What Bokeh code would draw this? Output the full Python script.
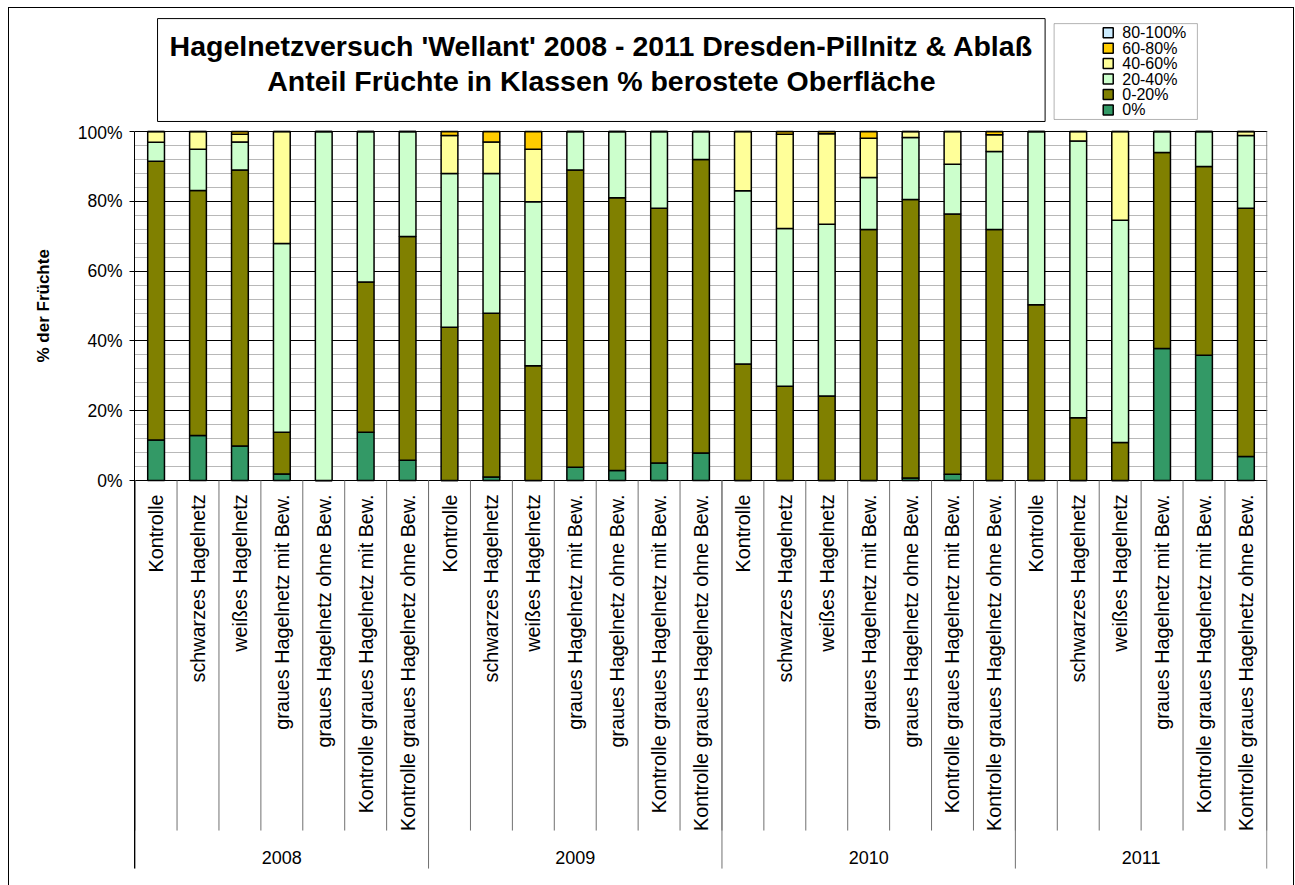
import math
from bokeh.plotting import figure
from bokeh.layouts import column
from bokeh.models import (FactorRange, Range1d, FixedTicker, PrintfTickFormatter, ColumnDataSource,
                          BoxAnnotation, Title)
from bokeh.core.properties import value
from bokeh.embed import file_html
from bokeh.resources import INLINE

# ---------------- data ----------------
years = ["2008", "2009", "2010", "2011"]
cats_full = ["Kontrolle", "schwarzes Hagelnetz", "weißes Hagelnetz", "graues Hagelnetz mit Bew.",
             "graues Hagelnetz ohne Bew.", "Kontrolle graues Hagelnetz mit Bew.",
             "Kontrolle graues Hagelnetz ohne Bew."]
cats_2011 = ["Kontrolle", "schwarzes Hagelnetz", "weißes Hagelnetz", "graues Hagelnetz mit Bew.",
             "Kontrolle graues Hagelnetz mit Bew.", "Kontrolle graues Hagelnetz ohne Bew."]
year_cats = {"2008": cats_full, "2009": cats_full, "2010": cats_full, "2011": cats_2011}

classes = ["0%", "0-20%", "20-40%", "40-60%", "60-80%", "80-100%"]
class_keys = ["c0", "c0_20", "c20_40", "c40_60", "c60_80", "c80_100"]
colors = ["#339966", "#808000", "#CCFFCC", "#FFFF99", "#FFCC00", "#CCECFF"]

c0 = [11.6, 12.9, 9.9, 1.9, 0, 13.8, 5.8,
      0, 1.0, 0, 3.8, 2.9, 5.0, 7.9,
      0, 0, 0, 0, 0.7, 1.8, 0,
      0, 0, 0, 37.8, 35.9, 6.9]
c0_20 = [79.9, 70.2, 79.1, 11.9, 0, 43.1, 64.1,
         43.9, 46.9, 32.9, 85.2, 78.1, 73.0, 84.1,
         33.4, 27.0, 24.2, 71.9, 79.8, 74.6, 71.9,
         50.4, 18.0, 10.9, 56.2, 54.1, 71.1]
c20_40 = [5.4, 11.8, 8.0, 54.1, 100, 43.1, 30.1,
          44.1, 40.1, 47.0, 11.0, 19.0, 22.0, 8.0,
          49.6, 45.2, 49.2, 14.9, 17.8, 14.2, 22.4,
          49.6, 79.3, 63.7, 6.0, 10.0, 20.9]
c40_60 = [3.1, 5.1, 2.2, 32.1, 0, 0, 0,
          10.9, 9.0, 15.0, 0, 0, 0, 0,
          17.0, 27.0, 26.0, 11.3, 1.7, 9.4, 4.8,
          0, 2.7, 25.4, 0, 0, 1.1]
c60_80 = [0, 0, 0.8, 0, 0, 0, 0,
          1.1, 3.0, 5.1, 0, 0, 0, 0,
          0, 0.8, 0.6, 1.9, 0, 0, 0.9,
          0, 0, 0, 0, 0, 0]
c80_100 = [0, 0, 0, 0, 0, 0, 0,
           0, 0, 0, 0, 0, 0, 0,
           0, 0, 0, 0, 0, 0, 0,
           0, 0, 0, 0, 0, 0]

y_ticks = [0, 20, 40, 60, 80, 100]
y_minor = [4, 8, 12, 16, 24, 28, 32, 36, 44, 48, 52, 56, 64, 68, 72, 76, 84, 88, 92, 96]

title_lines = ["Hagelnetzversuch 'Wellant' 2008 - 2011 Dresden-Pillnitz & Ablaß",
               "Anteil Früchte in Klassen % berostete Oberfläche"]
y_title = "% der Früchte"

FONT = "Liberation Sans"
W = 1286          # incl. 1px css borders left/right
BORDER_L, BORDER_R = 125, 28
SIDE = {"border-left": "1px solid black", "border-right": "1px solid black"}

factors = [(y, c) for y in years for c in year_cats[y]]
last = factors[-1]
x_range = FactorRange(*factors, group_padding=0, subgroup_padding=0, factor_padding=0,
                      range_padding=0.015, range_padding_units="absolute")

# ---------------- header: title box + legend (pixel-like coordinates) ----------------
ph = figure(width=W, height=115, x_range=Range1d(134, 1265), y_range=Range1d(122, 8),
            output_backend="svg", toolbar_location=None, title=None,
            x_axis_location=None, y_axis_location=None,
            min_border_left=BORDER_L, min_border_right=BORDER_R, min_border_top=0,
            min_border_bottom=0, styles=dict(SIDE, **{"border-top": "1px solid black"}))
ph.grid.visible = False
ph.outline_line_color = None

ph.quad(left=[157], right=[1043], top=[18], bottom=[120], fill_color="white", line_color="black",
        line_width=1)
ph.text(x=[600, 600], y=[45, 80], text=title_lines, text_align="center", text_baseline="middle",
        text_font=value(FONT), text_font_style="bold", text_font_size="28.5px", text_color="black")

leg_labels = classes[::-1]
leg_colors = colors[::-1]
leg_y = [32 + 15.3 * i for i in range(len(leg_labels))]
ph.add_layout(BoxAnnotation(left=1052, right=1195, top=23, bottom=118,
                            fill_color="white", fill_alpha=1, line_color="black", line_width=1,
                            level="underlay"))
ph.rect(x=[1106] * len(leg_labels), y=leg_y, width=10, height=10, width_units="screen",
        height_units="screen", fill_color=leg_colors, line_color="black", line_width=1.5)
ph.text(x=[1120] * len(leg_labels), y=leg_y, text=leg_labels, text_align="left",
        text_baseline="middle", text_font=value(FONT), text_font_size="16px", text_color="black")

# ---------------- main bar chart + category table ----------------
src = ColumnDataSource(dict(x=factors, c0=c0, c0_20=c0_20, c20_40=c20_40,
                            c40_60=c40_60, c60_80=c60_80, c80_100=c80_100))

p = figure(width=W, height=763, x_range=x_range, y_range=Range1d(-116.05, 100.3),
           output_backend="svg", toolbar_location=None, title=None,
           min_border_left=BORDER_L, min_border_right=BORDER_R, min_border_top=8,
           min_border_bottom=0, styles=SIDE)
p.outline_line_color = None
p.xaxis.visible = False
p.xgrid.visible = False

ticker = FixedTicker(ticks=y_ticks, minor_ticks=y_minor)
p.yaxis.ticker = ticker
p.yaxis.bounds = (-111.2, 100)
p.yaxis.formatter = PrintfTickFormatter(format="%d%%")
p.yaxis.minor_tick_line_color = None
p.yaxis.major_tick_out = 5
p.yaxis.major_tick_in = 0
p.yaxis.major_label_standoff = 7
p.yaxis.axis_line_color = "black"
p.yaxis.major_tick_line_color = "black"
p.yaxis.major_label_text_font = FONT
p.yaxis.major_label_text_font_size = "17.5px"
p.yaxis.major_label_text_color = "black"
p.ygrid.ticker = ticker
p.ygrid.grid_line_color = "black"
p.ygrid.minor_grid_line_color = "#b8b8b8"

p.add_layout(Title(text=y_title, align="left", offset=523, standoff=44, text_font=FONT,
                   text_font_style="bold", text_font_size="17px", text_color="black"), "left")

renderers = p.vbar_stack(class_keys, x="x", width=0.4, color=colors, line_color="black",
                         line_width=1.5, source=src)

# plot-area right border (grey)
p.segment(x0=[(last[0], last[1], 0.5)], y0=[0], x1=[(last[0], last[1], 0.5)], y1=[100],
          line_color="#808080", line_width=1)

# category table below the axis
leaf_x = [(y, c, -0.5) for (y, c) in factors] + [(last[0], last[1], 0.5)]
p.segment(x0=leaf_x, y0=[0] * len(leaf_x), x1=leaf_x, y1=[-100.3] * len(leaf_x),
          line_color="#707070", line_width=1)
group_x = [(y, year_cats[y][0], -0.5) for y in years] + [(last[0], last[1], 0.5)]
p.segment(x0=group_x, y0=[0] * len(group_x), x1=group_x, y1=[-111.2] * len(group_x),
          line_color="#707070", line_width=1)

p.text(x=factors, y=[-4.0] * len(factors), text=[c for (_, c) in factors], angle=math.pi / 2,
       text_align="right", text_baseline="middle", text_font=value(FONT),
       text_font_size="19.8px", text_color="black")
p.text(x=years, y=[-108.0] * len(years), text=years, text_align="center",
       text_baseline="middle", text_font=value(FONT), text_font_size="18px", text_color="black")

layout = column(ph, p, spacing=0, margin=(7, 0, 0, 8))
open("out.html", "w").write(file_html(layout, INLINE))
